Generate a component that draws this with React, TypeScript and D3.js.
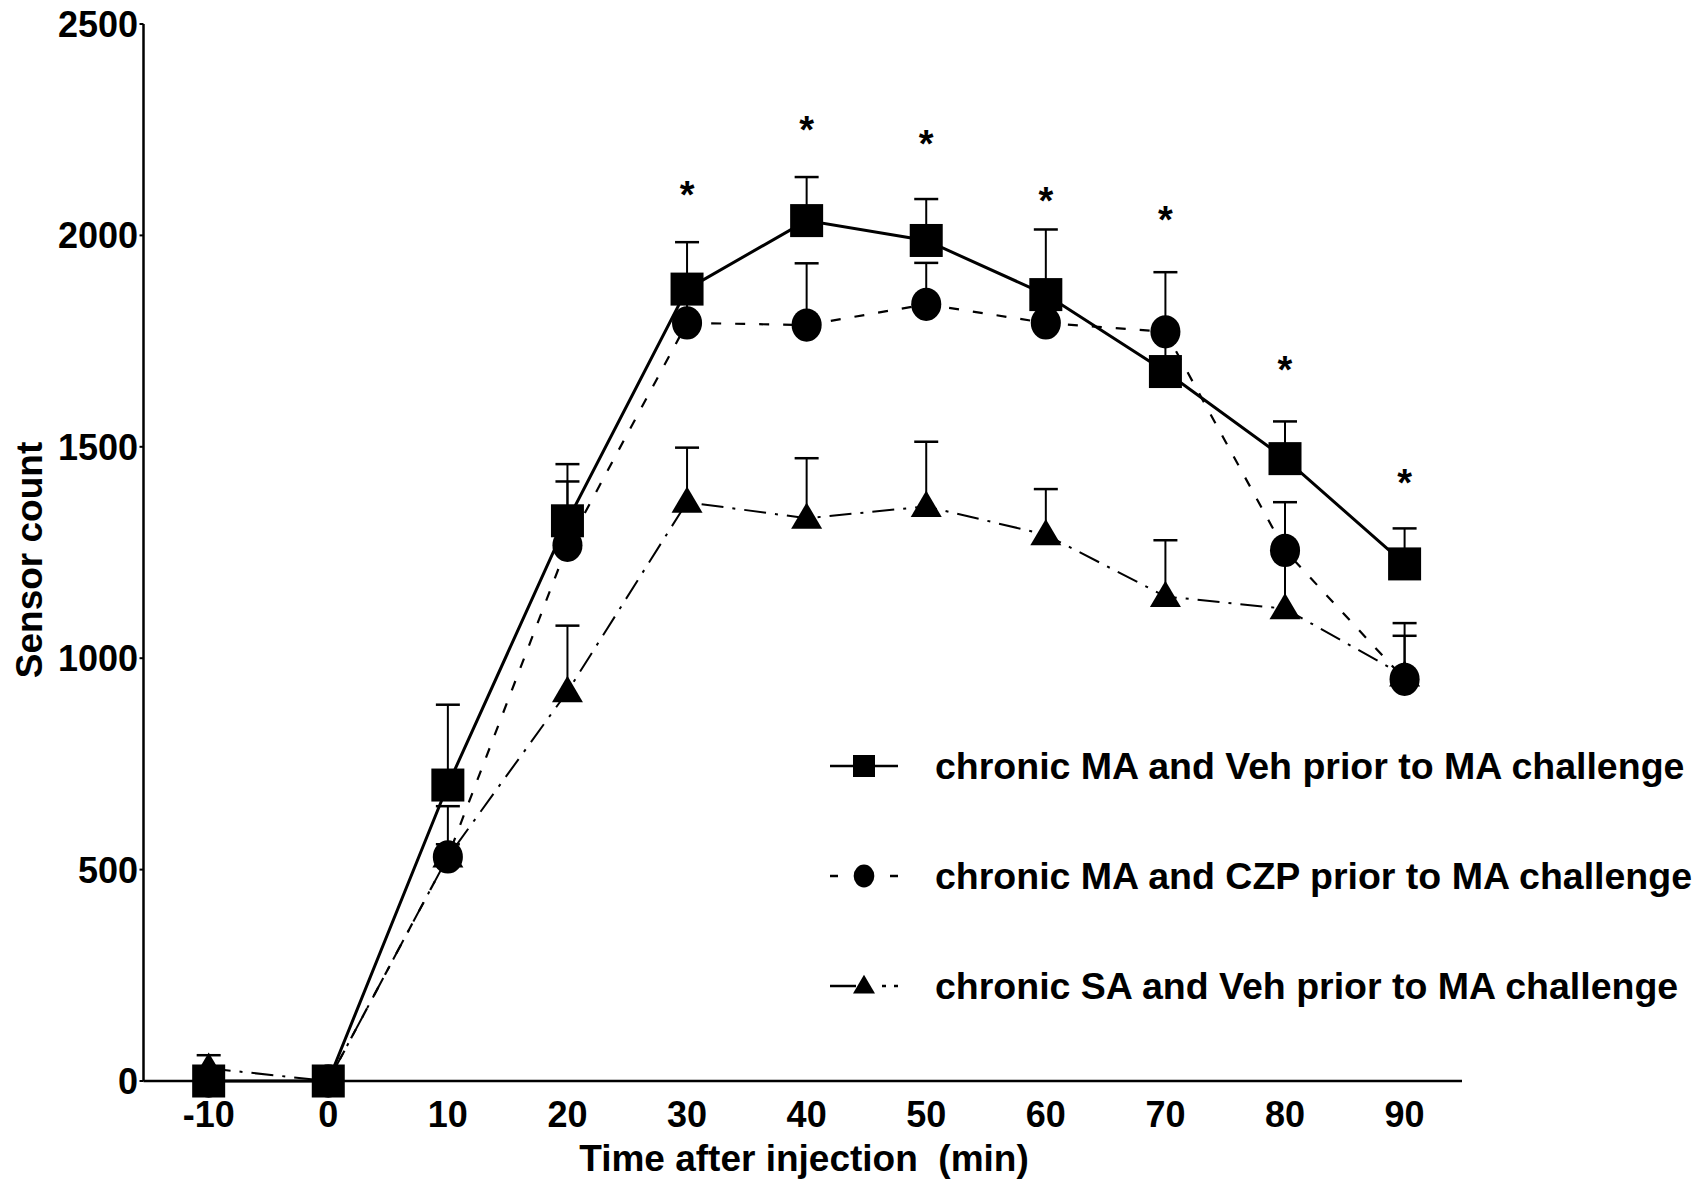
import React, { useEffect, useRef } from 'react';
import * as d3 from 'd3';

// time points (min) and the three groups
const times = [-10, 0, 10, 20, 30, 40, 50, 60, 70, 80, 90];
const vehMean = [0, 0, 700, 1325, 1873, 2035, 1988, 1860, 1678, 1472, 1223];
const vehErr = [0, 0, 190, 134, 111, 103, 98, 154, 100, 88, 84];
const czpMean = [0, 0, 530, 1267, 1793, 1788, 1837, 1793, 1772, 1255, 950];
const czpErr = [0, 0, 120, 151, 70, 146, 98, 100, 141, 114, 133];
const saMean = [30, 0, 530, 921, 1369, 1331, 1359, 1292, 1146, 1117, 958];
const saErr = [31, 0, 30, 156, 129, 142, 153, 108, 133, 140, 95];

const starTimes = [30, 40, 50, 60, 70, 80, 90];
const starValues = [2115, 2269, 2234, 2101, 2055, 1701, 1433];

const xTicks = [-10, 0, 10, 20, 30, 40, 50, 60, 70, 80, 90];
const yTicks = [0, 500, 1000, 1500, 2000, 2500];

const legendLabels = [
  'chronic MA and Veh prior to MA challenge',
  'chronic MA and CZP prior to MA challenge',
  'chronic SA and Veh prior to MA challenge',
];

const FONT = '"Liberation Sans", Arial, Helvetica, sans-serif';

const App: React.FC = () => {
  const ref = useRef<SVGSVGElement | null>(null);

  useEffect(() => {
    if (!ref.current) return;
    const width = 1701;
    const height = 1180;
    const svg = d3.select(ref.current);
    svg.selectAll('*').remove();
    svg.attr('width', width).attr('height', height);
    svg.append('rect').attr('width', width).attr('height', height).attr('fill', '#fff');

    const x = d3.scaleLinear().domain([-15.45, 94.8]).range([143.5, 1462]);
    const y = d3.scaleLinear().domain([0, 2500]).range([1081, 24]);

    // axes
    svg.append('line')
      .attr('x1', x.range()[0]).attr('x2', x.range()[1])
      .attr('y1', y(0)).attr('y2', y(0))
      .attr('stroke', '#000').attr('stroke-width', 2.5);
    svg.append('line')
      .attr('x1', x.range()[0]).attr('x2', x.range()[0])
      .attr('y1', y(0)).attr('y2', y(2500))
      .attr('stroke', '#000').attr('stroke-width', 2.5);

    svg.selectAll('.ytick')
      .data(yTicks)
      .enter().append('text')
      .attr('x', 138)
      .attr('y', d => y(d) + 13)
      .attr('text-anchor', 'end')
      .style('font-family', FONT)
      .style('font-weight', 'bold')
      .style('font-size', '36px')
      .text(d => String(d));

    svg.selectAll('.ytickmark')
      .data(yTicks)
      .enter().append('line')
      .attr('x1', x.range()[0] - 4).attr('x2', x.range()[0])
      .attr('y1', d => y(d)).attr('y2', d => y(d))
      .attr('stroke', '#000').attr('stroke-width', 2);

    svg.selectAll('.xtick')
      .data(xTicks)
      .enter().append('text')
      .attr('x', d => x(d))
      .attr('y', 1127)
      .attr('text-anchor', 'middle')
      .style('font-family', FONT)
      .style('font-weight', 'bold')
      .style('font-size', '36px')
      .text(d => String(d));

    svg.append('text')
      .attr('x', 804)
      .attr('y', 1171)
      .attr('text-anchor', 'middle')
      .style('font-family', FONT)
      .style('font-weight', 'bold')
      .style('font-size', '37px')
      .style('white-space', 'pre')
      .text('Time after injection  (min)');

    svg.append('text')
      .attr('transform', 'translate(42,560) rotate(-90)')
      .attr('text-anchor', 'middle')
      .style('font-family', FONT)
      .style('font-weight', 'bold')
      .style('font-size', '37px')
      .text('Sensor count');

    const series = [
      { mean: saMean, err: saErr, shape: 'triangle', dash: '22,9,3,9', sw: 2 },
      { mean: czpMean, err: czpErr, shape: 'circle', dash: '10,14', sw: 2.2 },
      { mean: vehMean, err: vehErr, shape: 'square', dash: null, sw: 3 },
    ];

    const line = d3.line<number>()
      .x((_, i) => x(times[i]))
      .y(d => y(d));

    series.forEach(s => {
      svg.append('path')
        .attr('d', line(s.mean) as string)
        .attr('fill', 'none')
        .attr('stroke', '#000')
        .attr('stroke-width', s.sw)
        .attr('stroke-dasharray', s.dash as any);
    });

    // error bars (upward only)
    series.forEach(s => {
      const g = svg.append('g');
      s.mean.forEach((m, i) => {
        if (!s.err[i]) return;
        const cx = x(times[i]);
        g.append('line')
          .attr('x1', cx).attr('x2', cx)
          .attr('y1', y(m)).attr('y2', y(m + s.err[i]))
          .attr('stroke', '#000').attr('stroke-width', 2);
        g.append('line')
          .attr('x1', cx - 12).attr('x2', cx + 12)
          .attr('y1', y(m + s.err[i])).attr('y2', y(m + s.err[i]))
          .attr('stroke', '#000').attr('stroke-width', 2.5);
      });
    });

    const drawMarker = (g: any, shape: string, cx: number, cy: number, size: number) => {
      if (shape === 'square') {
        g.append('rect')
          .attr('x', cx - size / 2).attr('y', cy - size / 2)
          .attr('width', size).attr('height', size)
          .attr('fill', '#000');
      } else if (shape === 'circle') {
        g.append('ellipse')
          .attr('cx', cx).attr('cy', cy)
          .attr('rx', size * 0.47).attr('ry', size * 0.52)
          .attr('fill', '#000');
      } else {
        const h = size * 0.85;
        g.append('path')
          .attr('d', `M${cx},${cy - h * 0.6}L${cx + size / 2},${cy + h * 0.4}L${cx - size / 2},${cy + h * 0.4}Z`)
          .attr('fill', '#000');
      }
    };

    series.forEach(s => {
      const g = svg.append('g');
      s.mean.forEach((m, i) => {
        drawMarker(g, s.shape, x(times[i]), y(m), s.shape === 'square' ? 33 : s.shape === 'circle' ? 32 : 31);
      });
    });

    // significance stars
    svg.selectAll('.star')
      .data(starTimes)
      .enter().append('text')
      .attr('x', (d: number) => x(d))
      .attr('y', (_: number, i: number) => y(starValues[i]) + 21)
      .attr('text-anchor', 'middle')
      .style('font-family', FONT)
      .style('font-weight', 'bold')
      .style('font-size', '38px')
      .text('*');

    // legend
    const legendY = [766, 876, 986];
    const legendShapes = ['square', 'circle', 'triangle'];
    legendLabels.forEach((label, i) => {
      const ly = legendY[i];
      const g = svg.append('g');
      if (i === 0) {
        g.append('line').attr('x1', 830).attr('x2', 898).attr('y1', ly).attr('y2', ly)
          .attr('stroke', '#000').attr('stroke-width', 2.5);
      } else if (i === 1) {
        [[830, 838], [890, 898]].forEach(([a, b]) => {
          g.append('line').attr('x1', a).attr('x2', b).attr('y1', ly).attr('y2', ly)
            .attr('stroke', '#000').attr('stroke-width', 2.5);
        });
      } else {
        g.append('line').attr('x1', 830).attr('x2', 856).attr('y1', ly).attr('y2', ly)
          .attr('stroke', '#000').attr('stroke-width', 2.5);
        g.append('line').attr('x1', 882).attr('x2', 886).attr('y1', ly).attr('y2', ly)
          .attr('stroke', '#000').attr('stroke-width', 2.5);
        g.append('line').attr('x1', 894).attr('x2', 898).attr('y1', ly).attr('y2', ly)
          .attr('stroke', '#000').attr('stroke-width', 2.5);
      }
      drawMarker(g, legendShapes[i], 864, ly, 22);
      g.append('text')
        .attr('x', 935)
        .attr('y', ly + 13)
        .style('font-family', FONT)
        .style('font-weight', 'bold')
        .style('font-size', '37.5px')
        .text(label);
    });
  }, []);

  return (
    <div style={{ position: 'absolute', left: 0, top: 0, width: 1701, height: 1180, background: '#fff' }}>
      <svg ref={ref} style={{ display: 'block' }} />
    </div>
  );
};

export default App;
